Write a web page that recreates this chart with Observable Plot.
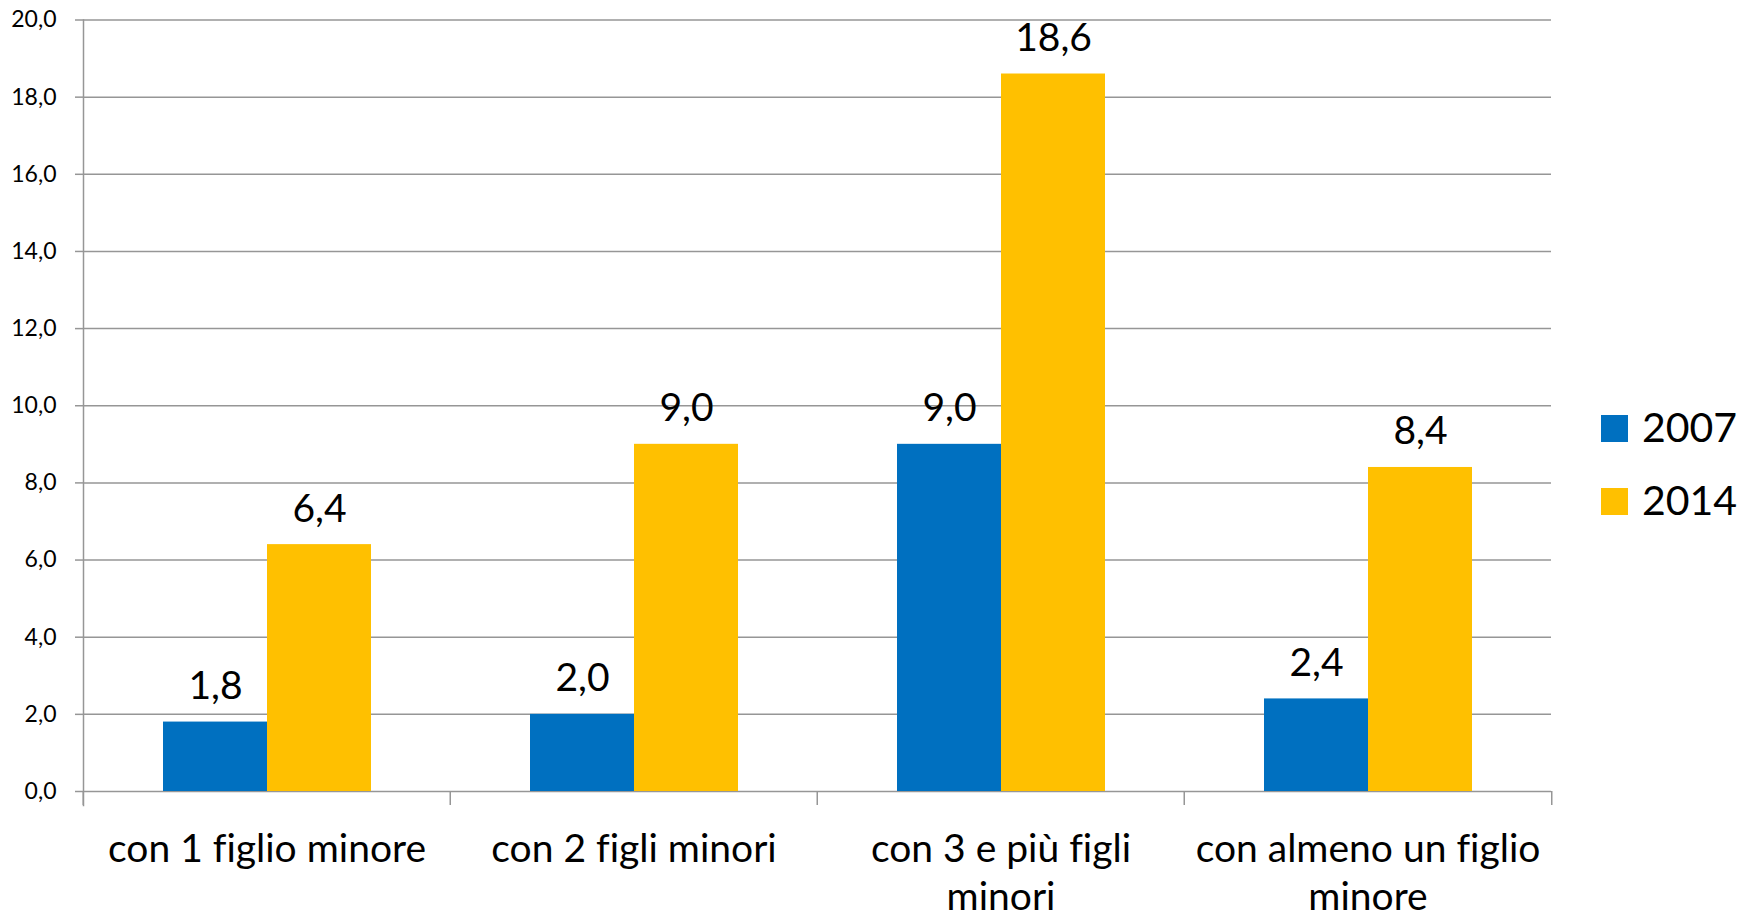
<!DOCTYPE html>
<html>
<head>
<meta charset="utf-8">
<script src="https://cdn.jsdelivr.net/npm/d3@7"></script>
<script src="https://cdn.jsdelivr.net/npm/@observablehq/plot@0.6"></script>
<style>
  html, body { margin: 0; padding: 0; background: #fff; }
  #wrap { position: relative; width: 1754px; height: 915px; font-family: Lato, sans-serif; font-variant-ligatures: none; }
  #wrap svg { display: block; }
  #wrap svg text { font-variant-ligatures: none; }
  .legend-item { position: absolute; left: 1601px; height: 41px; }
  .legend-item .swatch { position: absolute; left: 0; width: 27px; height: 27px; }
  .legend-item .label { position: absolute; left: 41px; font-size: 41px; line-height: 1; color: #000; white-space: nowrap; }
</style>
</head>
<body>
<div id="wrap"></div>
<script>
// Famiglie con figli minori: valori per categoria, 2007 e 2014
const categories = ["con 1 figlio minore", "con 2 figli minori", "con 3 e più figli minori", "con almeno un figlio minore"];
const tickLabels = ["con 1 figlio minore", "con 2 figli minori", "con 3 e più figli\nminori", "con almeno un figlio\nminore"];
const years = ["2007", "2014"];
const values2007 = [1.8, 2.0, 9.0, 2.4];
const values2014 = [6.4, 9.0, 18.6, 8.4];
const yTicks = [0, 2, 4, 6, 8, 10, 12, 14, 16, 18, 20];
const colors = ["#0070C0", "#FFC000"];

const rows = [];
categories.forEach((cat, i) => {
  rows.push({cat, year: years[0], value: values2007[i]});
  rows.push({cat, year: years[1], value: values2014[i]});
});

const fmt = (v) => v.toFixed(1).replace(".", ",");
const labelOf = new Map(categories.map((c, i) => [c, tickLabels[i]]));
const axisGray = "#969696";

const chart = Plot.plot({
  width: 1754,
  height: 915,
  marginLeft: 82,
  marginRight: 202,
  marginTop: 19.5,
  marginBottom: 124,
  style: {fontFamily: "Lato, sans-serif", background: "#fff", color: "#000"},
  fx: {domain: categories, padding: 0, label: null},
  x: {domain: years, paddingInner: 0, paddingOuter: 0.75, axis: null},
  y: {domain: [0, 20], label: null},
  color: {domain: years, range: colors},
  marks: [
    Plot.gridY(yTicks, {stroke: axisGray, strokeOpacity: 1, strokeWidth: 1.5}),
    Plot.barY(rows, {fx: "cat", x: "year", y: "value", fill: "year"}),
    Plot.text(rows, {
      fx: "cat", x: "year", y: "value",
      text: (d) => fmt(d.value),
      lineAnchor: "bottom", dy: -23,
      fontSize: 39, fill: "#000"
    }),
    Plot.axisY({
      ticks: yTicks, tickSize: 8, tickPadding: 19, tickFormat: fmt,
      fontSize: 23, stroke: axisGray, strokeWidth: 1.5, fill: "#000", label: null
    }),
    Plot.axisFx({
      anchor: "bottom", tickSize: 0, tickPadding: 36, tickFormat: (d) => labelOf.get(d),
      fontSize: 39, lineHeight: 1.23, fill: "#000", label: null
    }),
    // category separators below the baseline
    Plot.axisFx({anchor: "bottom", tickSize: 14, text: null, dx: -183.75, stroke: axisGray, strokeWidth: 1.5, label: null}),
    Plot.axisFx({anchor: "bottom", ticks: [categories[categories.length - 1]], tickSize: 14, text: null, dx: 183.75, stroke: axisGray, strokeWidth: 1.5, label: null}),
    // vertical value axis line
    Plot.frame({anchor: "left", facetAnchor: "left", insetBottom: -14, stroke: axisGray, strokeWidth: 1.5})
  ]
});

const wrap = document.getElementById("wrap");
wrap.appendChild(chart);

// legend on the right
const legendTops = [415, 488];
years.forEach((y, i) => {
  const item = document.createElement("div");
  item.className = "legend-item";
  item.style.top = legendTops[i] + "px";
  const sw = document.createElement("div");
  sw.className = "swatch";
  sw.style.background = colors[i];
  const lab = document.createElement("div");
  lab.className = "label";
  lab.style.top = "-9.4px";
  lab.textContent = y;
  item.appendChild(sw);
  item.appendChild(lab);
  wrap.appendChild(item);
});
</script>
</body>
</html>
